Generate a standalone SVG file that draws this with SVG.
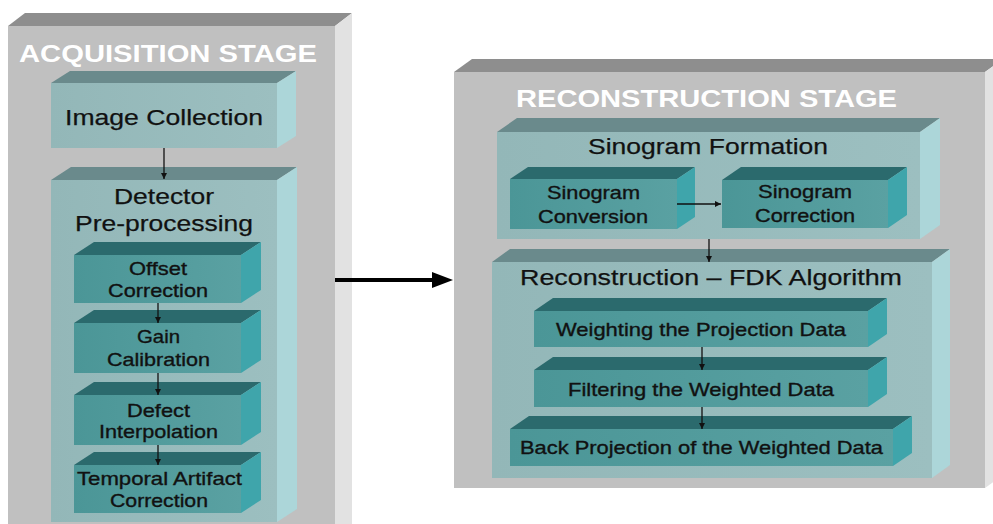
<svg xmlns="http://www.w3.org/2000/svg" width="993" height="524" viewBox="0 0 993 524">
<defs>
<linearGradient id="gOuter" x1="0" y1="0" x2="1" y2="0">
<stop offset="0" stop-color="#93b7b8"/><stop offset="1" stop-color="#9cbfc0"/>
</linearGradient>
<linearGradient id="gInner" x1="0" y1="0" x2="1" y2="0">
<stop offset="0" stop-color="#4b9697"/><stop offset="1" stop-color="#5aa1a2"/>
</linearGradient>
<marker id="ah" viewBox="0 0 10 10" refX="10" refY="5" markerWidth="6" markerHeight="6" orient="auto" markerUnits="userSpaceOnUse">
<path d="M0,0 L10,5 L0,10 Z" fill="#111"/>
</marker>
</defs>
<style>
.sFront{fill:#c0c0c0}.sTop{fill:#8e8e8e}.sRight{fill:#e2e2e2}
.oFront{fill:url(#gOuter)}.oTop{fill:#6a8a8c}.oRight{fill:#acd6d9}
.iFront{fill:url(#gInner)}.iTop{fill:#2b6a6d}.iRight{fill:#3fa5ab}
.title{font-family:"Liberation Sans",Arial,sans-serif;font-weight:bold;font-size:24px;fill:#fff}
.lbl{font-family:"Liberation Sans",Arial,sans-serif;font-size:22.5px;fill:#111;stroke:#111;stroke-width:0.25}
.sm{font-family:"Liberation Sans",Arial,sans-serif;font-size:18.5px;fill:#111;stroke:#111;stroke-width:0.35}
.conn{stroke:#111;stroke-width:1.3;fill:none}
</style>
<rect width="993" height="524" fill="#fff"/>

<g id="acquisition-stage">
<rect class="sFront" x="8" y="26" width="327" height="504"/>
<polygon class="sTop" points="8,26 25,13 352,13 335,26"/>
<polygon class="sRight" points="335,26 352,13 352,530 335,530"/>
<text class="title" x="19" y="62" textLength="298" lengthAdjust="spacingAndGlyphs">ACQUISITION STAGE</text>
</g>

<g id="reconstruction-stage">
<rect class="sFront" x="454" y="72" width="531" height="416"/>
<polygon class="sTop" points="454,72 472,59 1003,59 985,72"/>
<polygon class="sRight" points="985,72 1003,59 1003,475 985,488"/>
<text class="title" x="516" y="107" textLength="381" lengthAdjust="spacingAndGlyphs">RECONSTRUCTION STAGE</text>
</g>

<g id="image-collection">
<rect class="oFront" x="51" y="83" width="226" height="65"/>
<polygon class="oTop" points="51,83 70,71 296,71 277,83"/>
<polygon class="oRight" points="277,83 296,71 296,136 277,148"/>
<text class="lbl" x="65" y="125" textLength="198" lengthAdjust="spacingAndGlyphs">Image Collection</text>
</g>

<g id="detector-preprocessing">
<rect class="oFront" x="51" y="180" width="226" height="342"/>
<polygon class="oTop" points="51,180 71,167 297,167 277,180"/>
<polygon class="oRight" points="277,180 297,167 297,509 277,522"/>
<text class="lbl" x="114" y="204" textLength="100" lengthAdjust="spacingAndGlyphs">Detector</text>
<text class="lbl" x="75" y="231" textLength="178" lengthAdjust="spacingAndGlyphs">Pre-processing</text>
</g>

<g id="offset-correction">
<rect class="iFront" x="74" y="255" width="167" height="48"/>
<polygon class="iTop" points="74,255 94,242 261,242 241,255"/>
<polygon class="iRight" points="241,255 261,242 261,290 241,303"/>
<text class="sm" x="129" y="275" textLength="58" lengthAdjust="spacingAndGlyphs">Offset</text>
<text class="sm" x="108" y="297" textLength="100" lengthAdjust="spacingAndGlyphs">Correction</text>
</g>

<g id="gain-calibration">
<rect class="iFront" x="74" y="323" width="167" height="50"/>
<polygon class="iTop" points="74,323 94,310 261,310 241,323"/>
<polygon class="iRight" points="241,323 261,310 261,360 241,373"/>
<text class="sm" x="137" y="343" textLength="43" lengthAdjust="spacingAndGlyphs">Gain</text>
<text class="sm" x="107" y="366" textLength="103" lengthAdjust="spacingAndGlyphs">Calibration</text>
</g>

<g id="defect-interpolation">
<rect class="iFront" x="74" y="395" width="167" height="50"/>
<polygon class="iTop" points="74,395 94,382 261,382 241,395"/>
<polygon class="iRight" points="241,395 261,382 261,432 241,445"/>
<text class="sm" x="127" y="417" textLength="63" lengthAdjust="spacingAndGlyphs">Defect</text>
<text class="sm" x="99" y="438" textLength="119" lengthAdjust="spacingAndGlyphs">Interpolation</text>
</g>

<g id="temporal-artifact-correction">
<rect class="iFront" x="74" y="465" width="167" height="48"/>
<polygon class="iTop" points="74,465 94,452 261,452 241,465"/>
<polygon class="iRight" points="241,465 261,452 261,500 241,513"/>
<text class="sm" x="77" y="485" textLength="165" lengthAdjust="spacingAndGlyphs">Temporal Artifact</text>
<text class="sm" x="110" y="507" textLength="98" lengthAdjust="spacingAndGlyphs">Correction</text>
</g>

<g id="sinogram-formation">
<rect class="oFront" x="497" y="132" width="423" height="107"/>
<polygon class="oTop" points="497,132 517,118 940,118 920,132"/>
<polygon class="oRight" points="920,132 940,118 940,225 920,239"/>
<text class="lbl" x="588" y="154" textLength="240" lengthAdjust="spacingAndGlyphs">Sinogram Formation</text>
</g>

<g id="sinogram-conversion">
<rect class="iFront" x="510" y="179" width="167" height="50"/>
<polygon class="iTop" points="510,179 528,167 695,167 677,179"/>
<polygon class="iRight" points="677,179 695,167 695,217 677,229"/>
<text class="sm" x="547" y="199" textLength="93" lengthAdjust="spacingAndGlyphs">Sinogram</text>
<text class="sm" x="538" y="223" textLength="110" lengthAdjust="spacingAndGlyphs">Conversion</text>
</g>

<g id="sinogram-correction">
<rect class="iFront" x="722" y="180" width="166" height="48"/>
<polygon class="iTop" points="722,180 741,167 907,167 888,180"/>
<polygon class="iRight" points="888,180 907,167 907,215 888,228"/>
<text class="sm" x="758" y="198" textLength="94" lengthAdjust="spacingAndGlyphs">Sinogram</text>
<text class="sm" x="755" y="222" textLength="100" lengthAdjust="spacingAndGlyphs">Correction</text>
</g>

<g id="reconstruction-fdk">
<rect class="oFront" x="492" y="262" width="440" height="216"/>
<polygon class="oTop" points="492,262 510,249 950,249 932,262"/>
<polygon class="oRight" points="932,262 950,249 950,465 932,478"/>
<text class="lbl" x="520" y="285" textLength="382" lengthAdjust="spacingAndGlyphs">Reconstruction – FDK Algorithm</text>
</g>

<g id="weighting">
<rect class="iFront" x="534" y="311" width="334" height="36"/>
<polygon class="iTop" points="534,311 553,298 887,298 868,311"/>
<polygon class="iRight" points="868,311 887,298 887,334 868,347"/>
<text class="sm" x="556" y="336" textLength="290" lengthAdjust="spacingAndGlyphs">Weighting the Projection Data</text>
</g>

<g id="filtering">
<rect class="iFront" x="534" y="370" width="334" height="37"/>
<polygon class="iTop" points="534,370 553,357 887,357 868,370"/>
<polygon class="iRight" points="868,370 887,357 887,394 868,407"/>
<text class="sm" x="568" y="396" textLength="266" lengthAdjust="spacingAndGlyphs">Filtering the Weighted Data</text>
</g>

<g id="back-projection">
<rect class="iFront" x="510" y="429" width="383" height="37"/>
<polygon class="iTop" points="510,429 529,416 912,416 893,429"/>
<polygon class="iRight" points="893,429 912,416 912,453 893,466"/>
<text class="sm" x="520" y="454" textLength="363" lengthAdjust="spacingAndGlyphs">Back Projection of the Weighted Data</text>
</g>

<g id="connectors">
<line class="conn" x1="164" y1="148" x2="164" y2="179" marker-end="url(#ah)"/>
<line class="conn" x1="158" y1="303" x2="158" y2="323" marker-end="url(#ah)"/>
<line class="conn" x1="158" y1="373" x2="158" y2="395" marker-end="url(#ah)"/>
<line class="conn" x1="158" y1="445" x2="158" y2="465" marker-end="url(#ah)"/>
<line class="conn" x1="677" y1="204" x2="721" y2="204" marker-end="url(#ah)"/>
<line class="conn" x1="709" y1="239" x2="709" y2="262" marker-end="url(#ah)"/>
<line class="conn" x1="702" y1="347" x2="702" y2="370" marker-end="url(#ah)"/>
<line class="conn" x1="702" y1="407" x2="702" y2="429" marker-end="url(#ah)"/>
<line x1="335" y1="280" x2="436" y2="280" stroke="#000" stroke-width="4"/>
<polygon points="432,272 453,280 432,288" fill="#000"/>
</g>
</svg>
